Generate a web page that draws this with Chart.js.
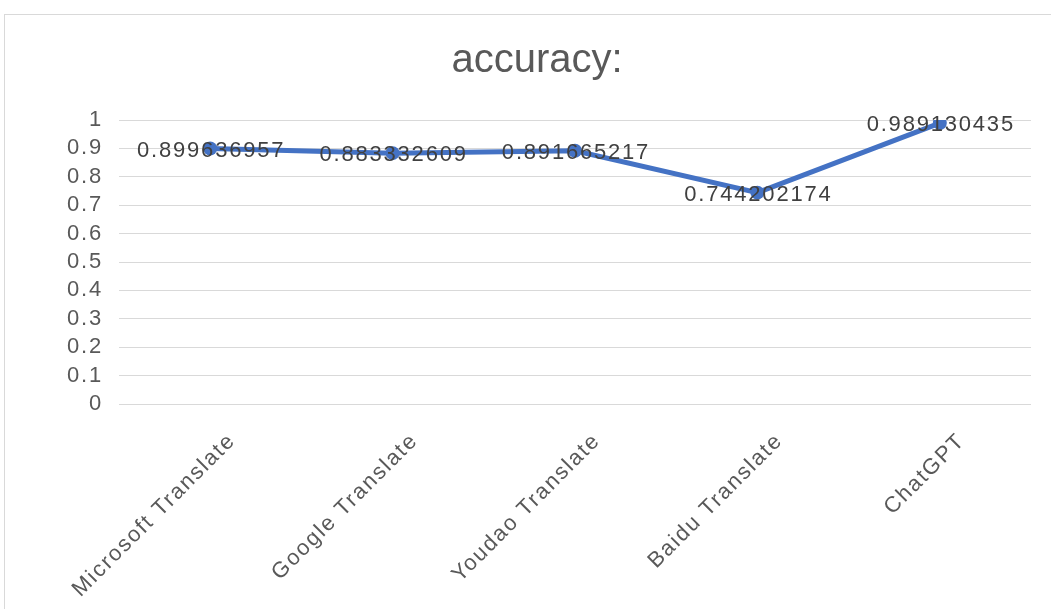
<!DOCTYPE html>
<html>
<head>
<meta charset="utf-8">
<script src="https://cdn.jsdelivr.net/npm/chart.js@4/dist/chart.umd.min.js"></script>
<style>
  html, body { margin: 0; padding: 0; background: #fff; overflow: hidden; }
  #frame { position: absolute; left: 4px; top: 14px; width: 1100px; height: 700px; border: 1px solid #d9d9d9; }
  #wrap { position: absolute; left: 0; top: 0; width: 1051px; height: 609px; }
</style>
</head>
<body>
<div id="frame"></div>
<div id="wrap"><canvas id="chart" width="1051" height="609"></canvas></div>
<script>
// --- data ---
const chartTitle = 'accuracy:'
const categories = ['Microsoft Translate', 'Google Translate', 'Youdao Translate', 'Baidu Translate', 'ChatGPT']
const accuracy = [0.899636957, 0.883332609, 0.891665217, 0.744202174, 0.989130435]
const yTickLabels = ['0', '0.1', '0.2', '0.3', '0.4', '0.5', '0.6', '0.7', '0.8', '0.9', '1']

Chart.defaults.font.family = "'Liberation Sans', Arial, sans-serif"
Chart.defaults.color = '#595959'

// --- title + value labels drawn on each point ---
const valueLabels = {
  id: 'valueLabels',
  beforeDraw(chart) {
    const ctx = chart.ctx
    ctx.save()
    ctx.letterSpacing = '0px'
    ctx.font = "40px 'Liberation Sans', Arial, sans-serif"
    ctx.fillStyle = '#595959'
    ctx.textAlign = 'center'
    ctx.textBaseline = 'middle'
    ctx.fillText(chartTitle, 537, 61)
    ctx.restore()
    ctx.letterSpacing = '1.8px'
  },
  afterDatasetsDraw(chart) {
    const ctx = chart.ctx
    const meta = chart.getDatasetMeta(0)
    ctx.save()
    ctx.font = "22px 'Liberation Sans', Arial, sans-serif"
    ctx.letterSpacing = '1.8px'
    ctx.fillStyle = '#404040'
    ctx.textAlign = 'center'
    ctx.textBaseline = 'middle'
    meta.data.forEach((pt, i) => {
      ctx.fillText(String(accuracy[i]), pt.x + 1, pt.y + 2)
    })
    ctx.restore()
  },
}

new Chart(document.getElementById('chart'), {
  type: 'line',
  data: {
    labels: categories,
    datasets: [{
      label: chartTitle,
      data: accuracy,
      borderColor: '#4472c4',
      backgroundColor: '#4472c4',
      borderWidth: 5,
      pointRadius: 7,
      pointHoverRadius: 7,
      pointBorderWidth: 0,
      tension: 0,
    }],
  },
  options: {
    responsive: false,
    animation: false,
    layout: { padding: { left: 0, right: 20, top: 120, bottom: 0 } },
    plugins: {
      legend: { display: false },
      tooltip: { enabled: false },
      title: { display: false },
    },
    scales: {
      x: {
        offset: true,
        grid: { display: false },
        border: { display: false },
        ticks: {
          autoSkip: false,
          maxRotation: 45,
          minRotation: 45,
          labelOffset: 22,
          padding: 16,
          color: '#595959',
          font: { size: 22 },
        },
        afterFit(scale) { scale.height = 205 },
      },
      y: {
        min: 0,
        max: 1,
        ticks: {
          autoSkip: false,
          stepSize: 0.1,
          padding: 16,
          color: '#595959',
          font: { size: 22 },
          callback: (v, i) => yTickLabels[i],
        },
        grid: { color: '#d9d9d9', lineWidth: 1, drawTicks: false },
        border: { display: false },
        afterFit(scale) { scale.width = 119 },
      },
    },
  },
  plugins: [valueLabels],
})
</script>
</body>
</html>
